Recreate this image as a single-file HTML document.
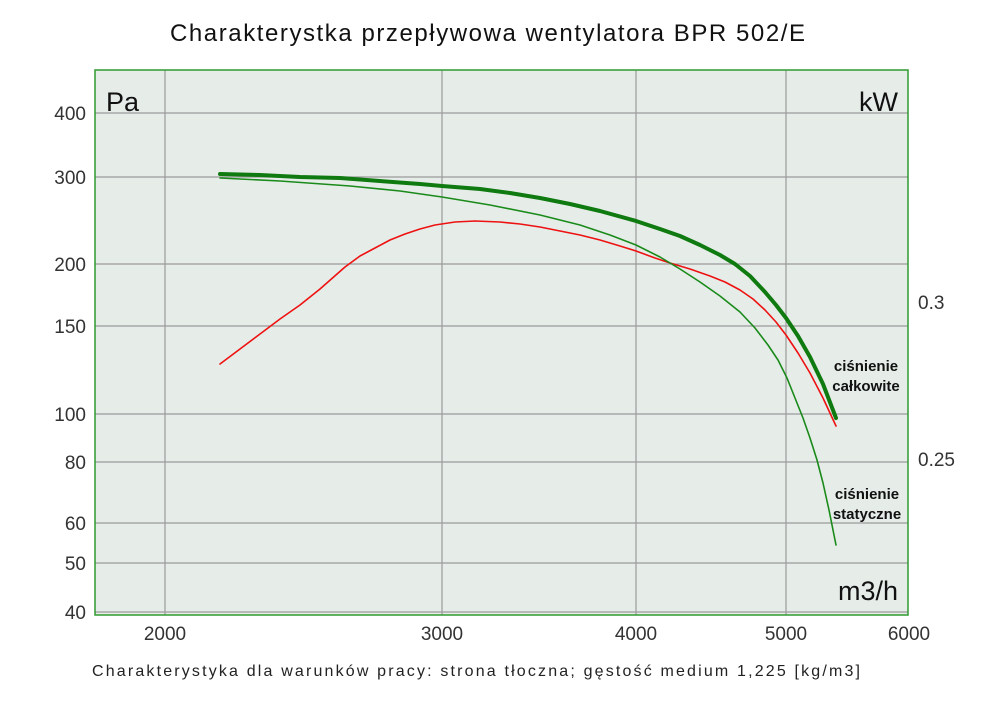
<!DOCTYPE html>
<html><head><meta charset="utf-8"><style>
body{margin:0;background:#fff;width:1000px;height:706px;overflow:hidden}
svg{display:block;font-family:"Liberation Sans","DejaVu Sans",sans-serif}
</style></head><body>
<svg width="1000" height="706" viewBox="0 0 1000 706">
<text x="170" y="41" font-size="24" fill="#111" textLength="635" lengthAdjust="spacing">Charakterystka przepływowa wentylatora BPR 502/E</text>
<rect x="95" y="70" width="813" height="545" fill="#e6ede8"/>
<g stroke="#9a9a9a" stroke-width="1.2">
<line x1="165" y1="70" x2="165" y2="615"/><line x1="442" y1="70" x2="442" y2="615"/>
<line x1="636" y1="70" x2="636" y2="615"/><line x1="786" y1="70" x2="786" y2="615"/>
<line x1="95" y1="113" x2="908" y2="113"/><line x1="95" y1="177" x2="908" y2="177"/>
<line x1="95" y1="264" x2="908" y2="264"/><line x1="95" y1="326" x2="908" y2="326"/>
<line x1="95" y1="414" x2="908" y2="414"/><line x1="95" y1="462" x2="908" y2="462"/>
<line x1="95" y1="523" x2="908" y2="523"/><line x1="95" y1="563" x2="908" y2="563"/>
<line x1="95" y1="612" x2="908" y2="612"/>
</g>
<rect x="95" y="70" width="813" height="545" fill="none" stroke="#2e9a2e" stroke-width="1.5"/>
<g font-size="19" fill="#333" text-anchor="end">
<text x="86" y="120">400</text><text x="86" y="184">300</text><text x="86" y="271">200</text>
<text x="86" y="333">150</text><text x="86" y="421">100</text><text x="86" y="469">80</text>
<text x="86" y="530">60</text><text x="86" y="570">50</text><text x="86" y="619">40</text>
</g>
<g font-size="19" fill="#333">
<text x="918" y="309">0.3</text><text x="918" y="466">0.25</text>
</g>
<g font-size="19" fill="#333" text-anchor="middle">
<text x="165" y="640">2000</text><text x="442" y="640">3000</text><text x="636" y="640">4000</text>
<text x="786" y="640">5000</text><text x="909" y="640">6000</text>
</g>
<text x="106" y="111" font-size="27" fill="#111">Pa</text>
<text x="898" y="111" font-size="27" fill="#111" text-anchor="end">kW</text>
<text x="898" y="600" font-size="27" fill="#111" text-anchor="end">m3/h</text>
<g fill="none" stroke-linejoin="round" stroke-linecap="round">
<polyline stroke="#ee1111" stroke-width="1.6" points="220,364 240,349 260,334 280,319 300,305 320,289 345,267 360,256 375,248 390,240 405,234 420,229 435,225 455,222 475,221 500,222 520,224 540,227 560,231 580,235 600,240 620,246 636,251 655,258 670,263 690,269 710,276 725,282 740,290 753,299 765,310 776,322 786,335 798,353 810,373 823,398 836,426"/>
<polyline stroke="#1a8a1a" stroke-width="1.6" points="220,178 280,181 350,186 400,191 442,197 490,205 540,215 580,225 610,235 636,245 660,257 680,269 700,282 720,296 740,312 755,328 768,345 778,360 787,378 795,398 803,418 810,438 817,460 823,483 829,510 836,545"/>
<polyline stroke="#0f7a0f" stroke-width="4" points="220,174 260,175 300,177 340,178 380,181 420,184 442,186 480,189 510,193 540,198 570,204 600,211 636,221 660,229 680,236 700,245 720,255 735,264 750,276 765,292 776,305 786,318 798,336 810,357 823,384 836,418"/>
</g>
<g font-size="15" font-weight="bold" fill="#111" text-anchor="middle">
<text x="866" y="371">ciśnienie</text><text x="866" y="391">całkowite</text>
<text x="867" y="499">ciśnienie</text><text x="867" y="519">statyczne</text>
</g>
<text x="92" y="676" font-size="16" fill="#222" textLength="768" lengthAdjust="spacing">Charakterystyka dla warunków pracy: strona tłoczna; gęstość medium 1,225 [kg/m3]</text>
</svg>
</body></html>
